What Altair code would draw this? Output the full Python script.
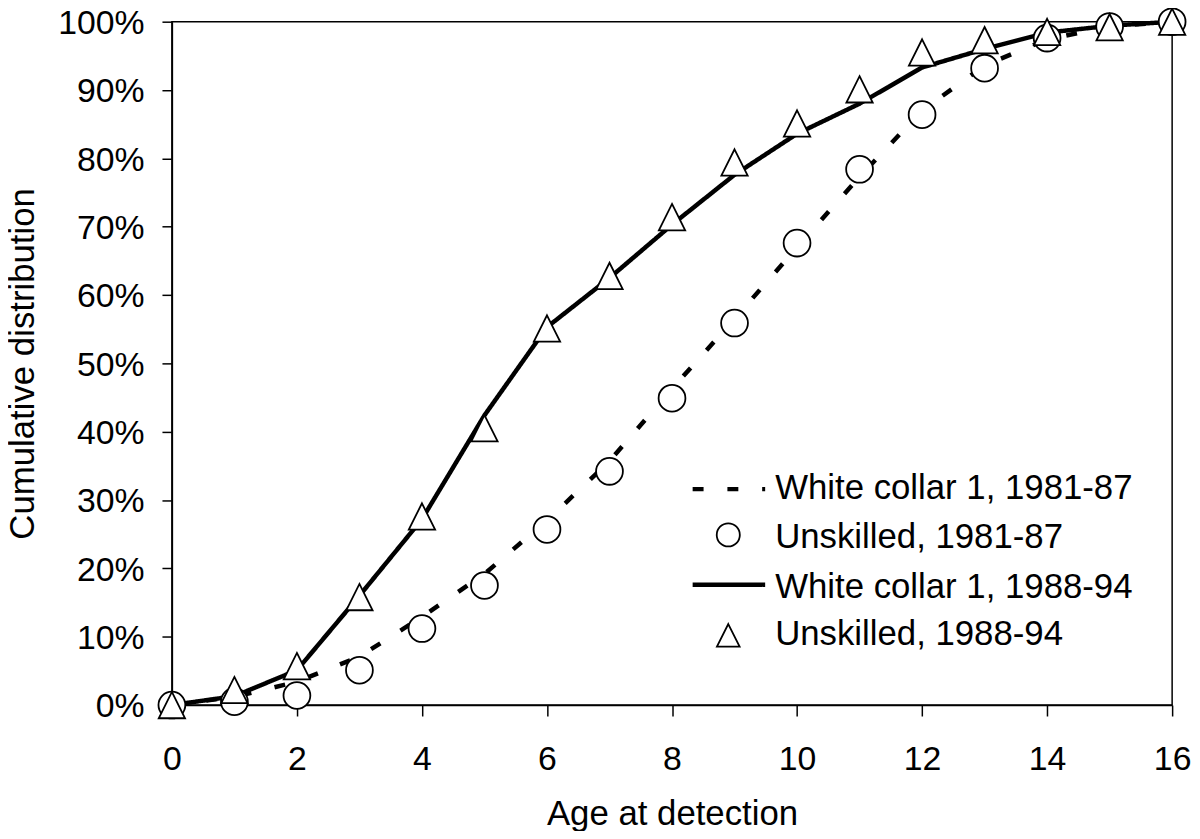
import altair as alt
import pandas as pd

# ---- data ----
ages = list(range(17))
wc_1981 = [0, 1.2, 3.4, 7.1, 12.9, 19.2, 27.0, 35.7, 46.3, 56.5, 67.0, 77.3, 87.0, 93.6, 97.4, 99.3, 100]
unsk_1981 = [0, 0.5, 1.4, 5.1, 11.2, 17.5, 25.7, 34.2, 44.9, 55.9, 67.6, 78.4, 86.4, 93.2, 97.6, 99.3, 100]
wc_1988 = [0, 1.3, 5.1, 16.0, 27.2, 42.4, 55.3, 62.5, 70.3, 77.6, 83.6, 88.0, 93.3, 96.0, 98.4, 99.4, 100]
unsk_1988 = [0, 2.2, 5.7, 15.8, 27.6, 40.5, 55.1, 62.8, 71.4, 79.4, 85.1, 90.1, 95.5, 97.3, 98.5, 99.2, 100]

names = [
    "White collar 1, 1981-87",
    "Unskilled, 1981-87",
    "White collar 1, 1988-94",
    "Unskilled, 1988-94",
]
x_ticks = list(range(0, 17, 2))
y_ticks = list(range(0, 101, 10))

# legend placement (in data units, inside the plot area)
legend_sym_x = [8.33, 9.49]          # start / end of legend line samples
legend_marker_x = 8.9
legend_text_x = 9.65
legend_row_y = [31.6, 24.9, 17.6, 10.2]
legend_text_y = [31.8, 24.6, 17.3, 10.4]

FONT = "Liberation Sans"
XTITLE = "Age at detection"
YTITLE = "Cumulative distribution"


def long(name, vals):
    return pd.DataFrame({"age": ages, "pct": vals, "series": name})


lines_df = pd.concat([long(names[0], wc_1981), long(names[2], wc_1988)], ignore_index=True)
points_df = pd.concat([long(names[1], unsk_1981), long(names[3], unsk_1988)], ignore_index=True)

leg_lines_df = pd.DataFrame({
    "series": [names[0], names[2]],
    "age": [legend_sym_x[0]] * 2,
    "age2": [legend_sym_x[1]] * 2,
    "pct": [legend_row_y[0], legend_row_y[2]],
})
leg_pts_df = pd.DataFrame({
    "series": [names[1], names[3]],
    "age": [legend_marker_x] * 2,
    "pct": [legend_row_y[1], legend_row_y[3]],
})
leg_txt_df = pd.DataFrame({
    "series": names,
    "age": [legend_text_x] * 4,
    "pct": legend_text_y,
})

# ---- marker shapes (custom paths, unit = sqrt(SYM)/2 px) ----
SYM = 1024
U = 16.0


def n(v):
    return round(v / U, 4)


r = n(13.5)
CIRC = f"M{r},0A{r},{r},0,1,1,{-r},0A{r},{r},0,1,1,{r},0Z"
t = n(13.25)
TRI = f"M0,{-t}L{t},{t}L{-t},{t}Z"

shape_scale = alt.Scale(domain=[names[1], names[3]], range=[CIRC, TRI])
dash_scale = alt.Scale(domain=[names[0], names[2]], range=[[11, 24], [1, 0]])

x_axis = alt.Axis(values=x_ticks, title=XTITLE, tickSize=11,
                  labelPadding=27, labelFlush=False,
                  titleBaseline="alphabetic", titleY=120)
y_axis = alt.Axis(values=y_ticks, labelExpr="datum.value + '%'",
                  title=YTITLE, tickSize=10, labelPadding=18,
                  labelFlush=False, labelOffset=2,
                  titleBaseline="alphabetic", titleX=-139, titleY=344,
                  titleAlign="center")
x_enc = alt.X("age:Q", scale=alt.Scale(domain=[0, 16], nice=False, zero=False),
              axis=x_axis, title=XTITLE)
y_enc = alt.Y("pct:Q", scale=alt.Scale(domain=[0, 100], nice=False),
              axis=y_axis, title=YTITLE)

line_layer = alt.Chart(lines_df).mark_line(color="black", strokeWidth=4.5).encode(
    x=x_enc,
    y=y_enc,
    strokeDash=alt.StrokeDash("series:N", scale=dash_scale, legend=None),
)

point_layer = alt.Chart(points_df).mark_point(
    filled=True, fill="white", stroke="black", strokeWidth=1.8, size=SYM, opacity=1
).encode(
    x=x_enc,
    y=y_enc,
    shape=alt.Shape("series:N", scale=shape_scale, legend=None),
)

# ---- legend, drawn inside the plot like the reference ----
leg_lines = alt.Chart(leg_lines_df).mark_rule(color="black", strokeWidth=4.5).encode(
    x=x_enc,
    x2=alt.X2("age2:Q", title=XTITLE),
    y=y_enc,
    strokeDash=alt.StrokeDash("series:N", scale=dash_scale, legend=None),
)
leg_pts = alt.Chart(leg_pts_df).mark_point(
    filled=True, fill="white", stroke="black", strokeWidth=1.8, size=760, opacity=1
).encode(
    x=x_enc,
    y=y_enc,
    shape=alt.Shape("series:N", scale=shape_scale, legend=None),
)
leg_txt = alt.Chart(leg_txt_df).mark_text(
    align="left", baseline="middle", font=FONT, fontSize=35, color="black"
).encode(
    x=x_enc,
    y=y_enc,
    text="series:N",
)

chart = (
    alt.layer(line_layer, point_layer, leg_lines, leg_pts, leg_txt)
    .properties(
        width=1007,
        height=688,
        background="white",
        autosize=alt.AutoSizeParams(type="none"),
        padding={"left": 165, "top": 11, "right": 20, "bottom": 124},
    )
    .configure_view(stroke="black", strokeWidth=1.5)
    .configure_axis(
        domainColor="black",
        domainWidth=1.5,
        tickColor="black",
        tickWidth=1.5,
        grid=False,
        labelFont=FONT,
        labelFontSize=34,
        labelColor="black",
        titleFont=FONT,
        titleFontSize=35,
        titleFontWeight="normal",
        titleColor="black",
    )
)

chart.save("out.html", embed_options={"renderer": "svg", "actions": False})
